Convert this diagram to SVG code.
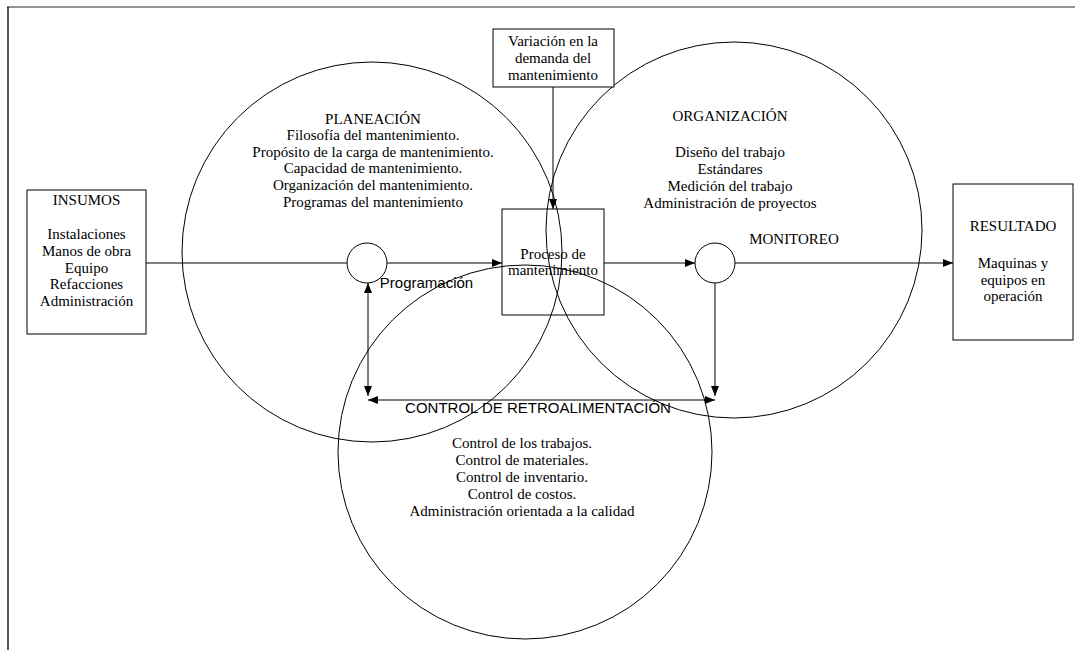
<svg xmlns="http://www.w3.org/2000/svg" width="1075" height="650" viewBox="0 0 1075 650">
  <style>
    .ln { fill: none; stroke: #000; stroke-width: 1; }
    .box { fill: #fff; stroke: #000; stroke-width: 1; }
    .ring { fill: none; stroke: #000; stroke-width: 1; }
    .serif { font-family: "Liberation Serif", "Times New Roman", serif; font-size: 15px; fill: #000; text-anchor: middle; }
    .sans { font-family: "Liberation Sans", Arial, sans-serif; font-size: 15px; fill: #000; text-anchor: middle; }
  </style>
  <defs>
    <marker id="arrow" viewBox="0 0 10 8" markerWidth="10" markerHeight="8" refX="10" refY="4" orient="auto-start-reverse" markerUnits="userSpaceOnUse">
      <path d="M0,0 L10,4 L0,8 z" fill="#000"/>
    </marker>
  </defs>

  <rect x="0" y="0" width="1075" height="650" fill="#fff"/>

  <!-- page frame -->
  <g id="frame">
    <line x1="7" y1="7" x2="1075" y2="7" stroke="#6f6f6f" stroke-width="1.3"/>
    <line x1="8" y1="7" x2="8" y2="650" stroke="#000" stroke-width="1.3"/>
  </g>

  <!-- the three large areas -->
  <g id="planeacion">
    <circle class="ring" cx="372" cy="252" r="190"/>
    <text class="serif" x="373" y="124">PLANEACIÓN</text>
    <text class="serif" x="373" y="140">Filosofía del mantenimiento.</text>
    <text class="serif" x="373" y="157">Propósito de la carga de mantenimiento.</text>
    <text class="serif" x="373" y="173">Capacidad de mantenimiento.</text>
    <text class="serif" x="373" y="190">Organización del mantenimiento.</text>
    <text class="serif" x="373" y="207">Programas del mantenimiento</text>
  </g>

  <g id="organizacion">
    <circle class="ring" cx="734" cy="230" r="188"/>
    <text class="serif" x="730" y="121">ORGANIZACIÓN</text>
    <text class="serif" x="730" y="157">Diseño del trabajo</text>
    <text class="serif" x="730" y="174">Estándares</text>
    <text class="serif" x="730" y="191">Medición del trabajo</text>
    <text class="serif" x="730" y="208">Administración de proyectos</text>
  </g>

  <g id="control">
    <circle class="ring" cx="525" cy="452" r="187"/>
    <text class="sans" x="538" y="413">CONTROL DE RETROALIMENTACIÓN</text>
    <text class="serif" x="522" y="448">Control de los trabajos.</text>
    <text class="serif" x="522" y="465">Control de materiales.</text>
    <text class="serif" x="522" y="482">Control de inventario.</text>
    <text class="serif" x="522" y="499">Control de costos.</text>
    <text class="serif" x="522" y="516">Administración orientada a la calidad</text>
  </g>

  <!-- connectors -->
  <g id="connectors">
    <line class="ln" x1="146" y1="263" x2="347" y2="263"/>
    <line class="ln" x1="387" y1="263" x2="502" y2="263" marker-end="url(#arrow)"/>
    <line class="ln" x1="553" y1="87" x2="553" y2="209" marker-end="url(#arrow)"/>
    <line class="ln" x1="604" y1="263" x2="695" y2="263" marker-end="url(#arrow)"/>
    <line class="ln" x1="735" y1="263" x2="953" y2="263" marker-end="url(#arrow)"/>
    <line class="ln" x1="368" y1="283" x2="368" y2="396" marker-start="url(#arrow)" marker-end="url(#arrow)"/>
    <line class="ln" x1="715" y1="283" x2="715" y2="396" marker-end="url(#arrow)"/>
    <line class="ln" x1="368" y1="400" x2="715" y2="400" marker-start="url(#arrow)" marker-end="url(#arrow)"/>
  </g>

  <g id="insumos">
    <rect class="box" x="27" y="190" width="119" height="144"/>
    <text class="serif" x="86.5" y="205">INSUMOS</text>
    <text class="serif" x="86.5" y="239">Instalaciones</text>
    <text class="serif" x="86.5" y="256">Manos de obra</text>
    <text class="serif" x="86.5" y="273">Equipo</text>
    <text class="serif" x="86.5" y="289">Refacciones</text>
    <text class="serif" x="86.5" y="306">Administración</text>
  </g>

  <g id="programacion">
    <circle class="ring" cx="367" cy="263" r="20"/>
    <text class="sans" x="426.5" y="288">Programación</text>
  </g>

  <g id="variacion">
    <rect class="box" x="493" y="29" width="121" height="58"/>
    <text class="serif" x="553" y="46">Variación en la</text>
    <text class="serif" x="553" y="63">demanda del</text>
    <text class="serif" x="553" y="80">mantenimiento</text>
  </g>

  <g id="proceso">
    <rect class="ln" x="502" y="209" width="102" height="106"/>
    <text class="serif" x="553" y="259">Proceso de</text>
    <text class="serif" x="553" y="275">mantenimiento</text>
  </g>

  <g id="monitoreo">
    <circle class="ring" cx="715" cy="263" r="20"/>
    <text class="serif" x="794" y="244">MONITOREO</text>
  </g>

  <g id="resultado">
    <rect class="box" x="953" y="184" width="120" height="156"/>
    <text class="serif" x="1013" y="231">RESULTADO</text>
    <text class="serif" x="1013" y="268">Maquinas y</text>
    <text class="serif" x="1013" y="285">equipos en</text>
    <text class="serif" x="1013" y="301">operación</text>
  </g>
</svg>
